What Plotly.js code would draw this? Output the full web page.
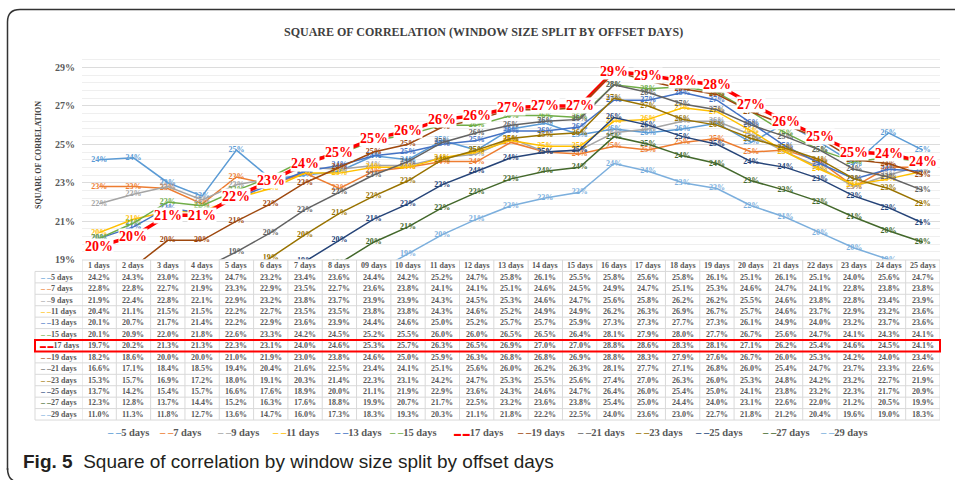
<!DOCTYPE html>
<html><head><meta charset="utf-8">
<script src="https://cdn.plot.ly/plotly-3.0.1.min.js"></script>
<style>html,body{margin:0;padding:0;background:#fff}#chart{width:955px;height:480px}</style>
</head><body><div id="chart"></div>
<script>
// ---------- DATA ----------
const offsetDays = ['1 days','2 days','3 days','4 days','5 days','6 days','7 days','8 days','09 days','10 days',
  '11 days','12 days','13 days','14 days','15 days','16 days','17 days','18 days','19 days','20 days',
  '21 days','22 days','23 days','24 days','25 days'];
const windowSizes = ['5 days','7 days','9 days','11 days','13 days','15 days','17 days','19 days','21 days','23 days','25 days','27 days','29 days'];

const win5  = [24.2,24.3,23.0,22.3,24.7,23.2,23.4,23.6,24.4,24.2,25.2,24.7,25.8,26.1,25.5,25.8,25.6,25.8,26.1,25.1,26.1,25.1,24.0,25.6,24.7];
const win7  = [22.8,22.8,22.7,21.9,23.3,22.9,23.5,22.7,23.6,23.8,24.1,24.1,25.1,24.6,24.5,24.9,24.7,25.1,25.3,24.6,24.7,24.1,22.8,23.8,23.8];
const win9  = [21.9,22.4,22.8,22.1,22.9,23.2,23.8,23.7,23.9,23.9,24.3,24.5,25.3,24.6,24.7,25.6,25.8,26.2,26.2,25.5,24.6,23.8,22.8,23.4,23.9];
const win11 = [20.4,21.1,21.5,21.5,22.2,22.7,23.5,23.5,23.8,23.8,24.3,24.6,25.2,24.9,24.9,26.2,26.3,26.9,26.7,25.7,24.6,23.7,22.9,23.2,23.6];
const win13 = [20.1,20.7,21.7,21.4,22.2,22.9,23.6,23.9,24.4,24.6,25.0,25.2,25.7,25.7,25.9,27.3,27.3,27.7,27.3,26.1,24.9,24.0,23.2,23.7,23.6];
const win15 = [20.1,20.9,22.0,21.8,22.6,23.3,24.2,24.5,25.2,25.5,26.0,26.0,26.5,26.5,26.4,28.1,27.9,28.0,27.7,26.7,25.6,24.7,24.1,24.3,24.1];
const win17 = [19.7,20.2,21.3,21.3,22.3,23.1,24.0,24.6,25.3,25.7,26.3,26.5,26.9,27.0,27.0,28.8,28.6,28.3,28.1,27.1,26.2,25.4,24.6,24.5,24.1];
const win19 = [18.2,18.6,20.0,20.0,21.0,21.9,23.0,23.8,24.6,25.0,25.9,26.3,26.8,26.8,26.9,28.8,28.3,27.9,27.6,26.7,26.0,25.3,24.2,24.0,23.4];
const win21 = [16.6,17.1,18.4,18.5,19.4,20.4,21.6,22.5,23.4,24.1,25.1,25.6,26.0,26.2,26.3,28.1,27.7,27.1,26.8,26.0,25.4,24.7,23.7,23.3,22.6];
const win23 = [15.3,15.7,16.9,17.2,18.0,19.1,20.3,21.4,22.3,23.1,24.2,24.7,25.3,25.5,25.6,27.4,27.0,26.3,26.0,25.3,24.8,24.2,23.2,22.7,21.9];
const win25 = [13.7,14.2,15.4,15.7,16.6,17.6,18.9,20.0,21.1,21.9,22.9,23.6,24.3,24.6,24.7,26.4,26.0,25.4,25.0,24.1,23.8,23.2,22.3,21.7,20.9];
const win27 = [12.3,12.8,13.7,14.4,15.2,16.3,17.6,18.8,19.9,20.7,21.7,22.5,23.2,23.6,23.8,25.4,25.0,24.4,24.0,23.1,22.6,22.0,21.2,20.5,19.9];
const win29 = [11.0,11.3,11.8,12.7,13.6,14.7,16.0,17.3,18.3,19.3,20.3,21.1,21.8,22.2,22.5,24.0,23.6,23.0,22.7,21.8,21.2,20.4,19.6,19.0,18.3];

const seriesValues = [win5,win7,win9,win11,win13,win15,win17,win19,win21,win23,win25,win27,win29];
const seriesColors = ['#5B9BD5','#ED7D31','#A5A5A5','#FFC000','#4472C4','#70AD47','#FF0000',
                      '#9E480E','#636363','#997300','#264478','#43682B','#7CAFDD'];
const highlightIndex = 6; // 17 days

// ---------- STYLE / LAYOUT HELPERS ----------
const W = 955, H = 480;
const px = x => x / W, py = y => 1 - y / H;
const serif = 'Liberation Serif, Times New Roman, serif';
const gray = '#595959';
const gridGray = '#d9d9d9';
const lbl = v => Math.round(v - 0.01) + '%';

const traces = seriesValues.map((vals, i) => {
  const hi = i === highlightIndex;
  return {
    type: 'scatter', mode: hi ? 'lines' : 'lines+text', name: windowSizes[i],
    x: offsetDays, y: vals,
    text: vals.map(lbl), textposition: 'middle center',
    textfont: {family: serif, size: 8, color: seriesColors[i], weight: 'bold'},
    line: {color: seriesColors[i], width: hi ? 3.5 : 1.5},
    cliponaxis: true, hoverinfo: 'skip', showlegend: false
  };
});

// highlighted series labels: white-filled labels placed through the axes
const hiLabels = seriesValues[highlightIndex].map((v, j) => ({
  xref: 'x', yref: 'y', x: offsetDays[j], y: v, showarrow: false,
  text: lbl(v), bgcolor: 'white', borderpad: 0,
  font: {family: serif, size: 14, color: '#FF0000', weight: 'bold'}
}));

// ---------- data table under the chart ----------
const tableTop = 260, rowH = 11.43, tableLeft = 35, firstColRight = 82, tableRight = 940;
const nRows = windowSizes.length;
const keyHtml = (i, big) => i === highlightIndex
  ? `<span style="color:${seriesColors[i]};font-size:${big ? 7 : 6}px">▬ ▬</span>${windowSizes[i]}`
  : `<span style="color:${seriesColors[i]}">– –</span>${windowSizes[i]}`;
const cellFont = {family: serif, size: 8, color: gray, weight: 'bold'};
const tableAnn = [];
offsetDays.forEach((d, j) => {
  tableAnn.push({xref: 'x', yref: 'paper', x: d, y: py(tableTop + rowH / 2), showarrow: false,
                 text: d, font: cellFont, xanchor: 'center', yanchor: 'middle'});
});
windowSizes.forEach((n, i) => {
  const yc = py(tableTop + (i + 1) * rowH + rowH / 2);
  tableAnn.push({xref: 'paper', yref: 'paper', x: px(38), y: yc, showarrow: false, xanchor: 'left', yanchor: 'middle',
                 text: keyHtml(i, false), font: cellFont});
  seriesValues[i].forEach((v, j) => {
    tableAnn.push({xref: 'x', yref: 'paper', x: offsetDays[j], y: yc, showarrow: false,
                   xanchor: 'center', yanchor: 'middle', text: v.toFixed(1) + '%', font: cellFont});
  });
});
const tableShapes = [];
for (let r = 0; r <= nRows + 1; r++) {
  const y = py(tableTop + r * rowH);
  tableShapes.push({type: 'line', xref: 'paper', yref: 'paper', x0: px(r === 0 ? firstColRight : tableLeft), x1: px(tableRight),
                    y0: y, y1: y, line: {color: gridGray, width: 1}});
}
for (let j = 0; j <= offsetDays.length; j++) {
  tableShapes.push({type: 'line', xref: 'x', yref: 'paper', x0: j - 0.5, x1: j - 0.5,
                    y0: py(tableTop), y1: py(tableTop + (nRows + 1) * rowH), line: {color: gridGray, width: 1}});
}
tableShapes.push({type: 'line', xref: 'paper', yref: 'paper', x0: px(tableLeft), x1: px(tableLeft),
                  y0: py(tableTop + rowH), y1: py(tableTop + (nRows + 1) * rowH), line: {color: gridGray, width: 1}});

// legend (below the table)
const legendX = [105,157,215,270,332,387,452,515,575,633,693,760,818];
const legendAnn = windowSizes.map((n, i) => ({
  xref: 'paper', yref: 'paper', x: px(legendX[i]), y: py(432), xanchor: 'left', yanchor: 'middle',
  showarrow: false, text: keyHtml(i, true),
  font: {family: serif, size: 10.5, color: gray, weight: 'bold'}
}));

const hiRow = tableTop + (highlightIndex + 1) * rowH;
const layout = {
  width: W, height: H, margin: {l: 0, r: 0, t: 0, b: 0},
  paper_bgcolor: 'white', plot_bgcolor: 'white', showlegend: false,
  xaxis: {domain: [px(firstColRight), px(tableRight)], type: 'category', range: [-0.5, 24.5],
          showticklabels: false, showgrid: false, zeroline: false, showline: false, ticks: ''},
  yaxis: {domain: [py(259.5), py(52)], range: [19, 29.81], tick0: 19, dtick: 2, ticksuffix: '%',
          tickfont: {family: serif, size: 10, color: gray, weight: 'bold'},
          gridcolor: '#dcdcdc', gridwidth: 1, zeroline: false, showline: false, ticks: '',
          ticklabelstandoff: 6,
          minor: {tick0: 19, dtick: 0.4, showgrid: true, gridcolor: '#efefef', gridwidth: 1}},
  annotations: [
    {xref: 'paper', yref: 'paper', x: px(484), y: py(31.5), xanchor: 'center', yanchor: 'middle', showarrow: false,
     text: 'SQUARE OF CORRELATION (WINDOW SIZE SPLIT BY OFFSET DAYS)',
     font: {family: serif, size: 12, color: '#404040', weight: 'bold'}},
    {xref: 'paper', yref: 'paper', x: px(38), y: py(155), xanchor: 'center', yanchor: 'middle', showarrow: false,
     textangle: -90, text: 'SQUARE OF CORRELATION',
     font: {family: serif, size: 8, color: '#404040', weight: 'bold'}},
    {xref: 'paper', yref: 'paper', x: px(21), y: py(461), xanchor: 'left', yanchor: 'middle', showarrow: false,
     text: '<b>Fig. 5</b>  Square of correlation by window size split by offset days',
     font: {family: 'Liberation Sans, sans-serif', size: 19, color: '#231f20'}}
  ].concat(hiLabels, tableAnn, legendAnn),
  shapes: tableShapes.concat([
    {type: 'rect', xref: 'paper', yref: 'paper', x0: px(tableLeft), x1: px(tableRight), y0: py(hiRow + rowH), y1: py(hiRow),
     line: {color: '#ff0000', width: 2}, fillcolor: 'rgba(0,0,0,0)'},
    {type: 'path', xref: 'paper', yref: 'paper',
     path: `M ${px(7.5)},${py(470)} L ${px(7.5)},${py(22)} Q ${px(7.5)},${py(9.5)} ${px(20)},${py(9.5)} L ${px(960)},${py(9.5)}`,
     line: {color: '#333333', width: 1.5}},
    {type: 'path', xref: 'paper', yref: 'paper',
     path: `M ${px(7.5)},${py(468)} Q ${px(7.5)},${py(481)} ${px(18)},${py(482)}`,
     line: {color: '#333333', width: 1.5}}
  ])
};

Plotly.newPlot('chart', traces, layout, {displayModeBar: false, staticPlot: true});
</script></body></html>
